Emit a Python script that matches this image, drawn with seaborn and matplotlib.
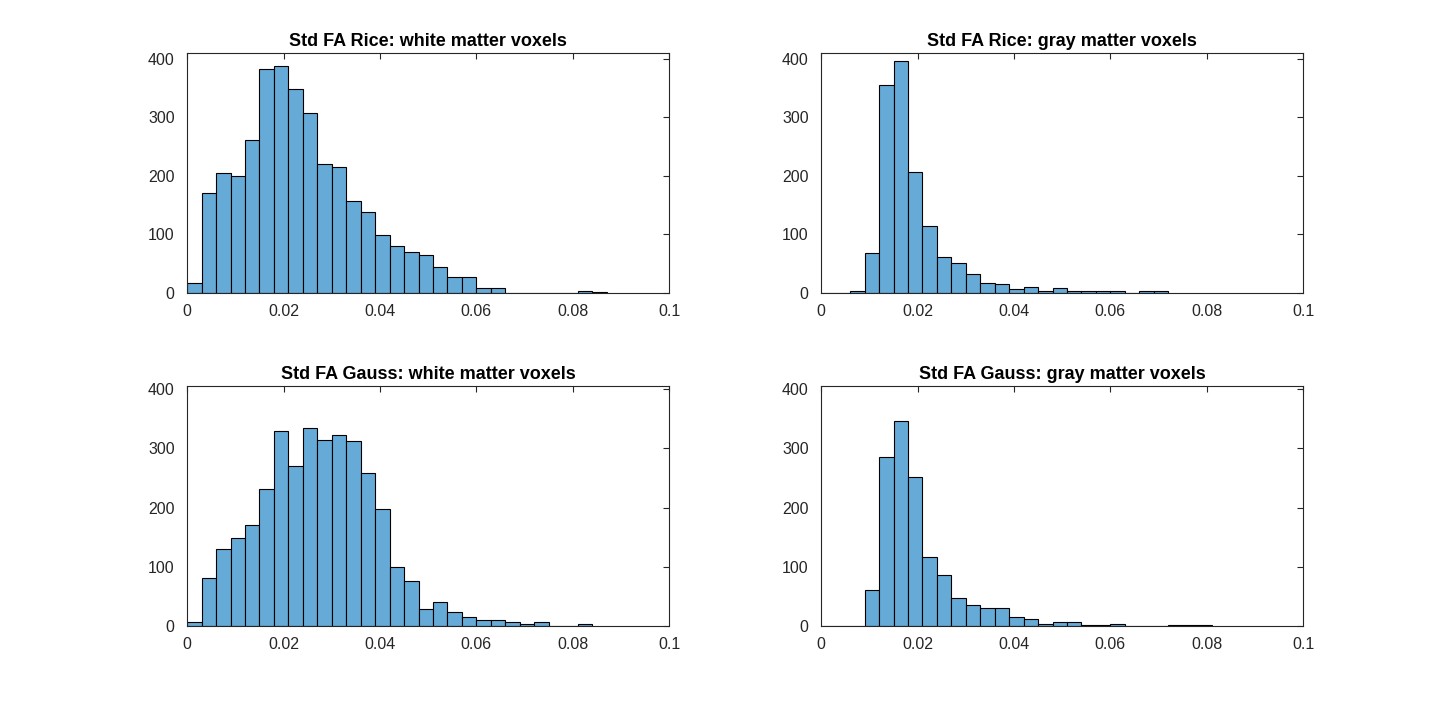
import numpy as np
import pandas as pd
import matplotlib
matplotlib.use('Agg')
import matplotlib.pyplot as plt
import seaborn as sns

# histogram counts, bin width 0.003 starting at 0
bin_width = 0.003
rice_white = [17, 171, 204, 200, 260, 382, 387, 348, 307, 219, 214, 156, 137, 98, 79, 70, 65,
              43, 27, 26, 7, 7, 0, 0, 0, 0, 0, 2, 1]
rice_gray = [0, 0, 2, 67, 355, 396, 206, 113, 60, 50, 31, 17, 14, 6, 9, 3, 7, 3, 2, 2, 2,
             0, 2, 2]
gauss_white = [7, 80, 130, 148, 170, 232, 329, 270, 334, 314, 322, 312, 258, 198, 100, 75,
               28, 40, 23, 15, 10, 10, 6, 2, 6, 0, 0, 2]
gauss_gray = [0, 0, 0, 61, 285, 346, 251, 117, 85, 46, 35, 30, 30, 15, 11, 3, 6, 6, 1, 1, 3,
              0, 0, 0, 1, 1, 1]

titles = ['Std FA Rice: white matter voxels', 'Std FA Rice: gray matter voxels',
          'Std FA Gauss: white matter voxels', 'Std FA Gauss: gray matter voxels']
series = [rice_white, rice_gray, gauss_white, gauss_gray]
ymax = [410, 410, 406, 406]

sns.set_style('white')
plt.rcParams['font.family'] = ['Liberation Sans', 'DejaVu Sans']

fig = plt.figure(figsize=(14.4, 7.03), dpi=100)
positions = [[0.13, 0.5838, 0.3347, 0.3412], [0.5703, 0.5838, 0.3347, 0.3412],
             [0.13, 0.11, 0.3347, 0.3412], [0.5703, 0.11, 0.3347, 0.3412]]

face = (0.4, 0.668, 0.845)
for pos, counts, title, ym in zip(positions, series, titles, ymax):
    ax = fig.add_axes(pos)
    edges = np.arange(len(counts) + 1) * bin_width
    df = pd.DataFrame({'fa': edges[:-1] + bin_width / 2, 'n': counts})
    sns.histplot(data=df, x='fa', weights='n', bins=edges.tolist(), ax=ax, color=face,
                 alpha=1, edgecolor='black', linewidth=0.8)
    ax.set_xlim(0, 0.1)
    ax.set_ylim(0, ym)
    ax.set_xticks([0, 0.02, 0.04, 0.06, 0.08, 0.1])
    ax.set_xticklabels(['0', '0.02', '0.04', '0.06', '0.08', '0.1'])
    ax.set_yticks([0, 100, 200, 300, 400])
    ax.set_xlabel('')
    ax.set_ylabel('')
    ax.set_title(title, fontsize=13, fontweight='bold', pad=5, color='black')
    ax.tick_params(direction='in', top=True, right=True, labelsize=11.5, length=4,
                   color='#262626', labelcolor='#262626', width=0.8)
    ax.tick_params(axis='x', pad=8.5)
    ax.tick_params(axis='y', pad=9)
    for s in ax.spines.values():
        s.set_color('#262626')
        s.set_linewidth(0.8)

fig.savefig('out.png', dpi=100)
